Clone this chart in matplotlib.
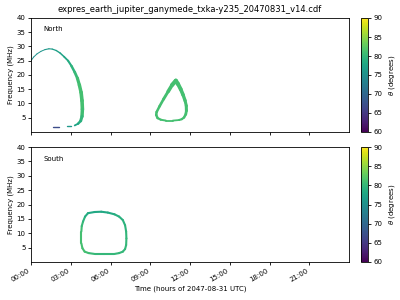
import numpy as np
import matplotlib
matplotlib.use("Agg")
import matplotlib.pyplot as plt
from matplotlib.collections import LineCollection
from matplotlib.colors import Normalize
from matplotlib.cm import ScalarMappable

title = "expres_earth_jupiter_ganymede_txka-y235_20470831_v14.cdf"
xtick_hours = [0, 3, 6, 9, 12, 15, 18, 21]
xtick_labels = ["00:00", "03:00", "06:00", "09:00", "12:00", "15:00", "18:00", "21:00"]
yticks = [5, 10, 15, 20, 25, 30, 35, 40]
cbar_ticks = [60, 65, 70, 75, 80, 85, 90]

# North arc 1 (hours, MHz, theta deg)
n1_t = [0.0, 0.2, 0.45, 0.75, 1.05, 1.35, 1.6, 1.9, 2.2, 2.5, 2.8, 3.05, 3.3, 3.5, 3.65, 3.78, 3.85, 3.88, 3.85, 3.75, 3.55, 3.3]
n1_f = [25.0, 26.3, 27.4, 28.3, 28.9, 29.2, 29.1, 28.6, 27.7, 26.4, 25.0, 23.2, 21.0, 18.9, 16.5, 13.9, 11.0, 8.0, 5.5, 3.9, 2.9, 2.3]
n1_th = [75, 75, 75.5, 75.5, 76, 76, 76.5, 77, 77, 77.5, 78, 79, 80, 80.5, 81, 81, 81, 81, 80.5, 79.5, 78, 77]
# small fragments under arc 1
n1b_t = [1.63, 2.1]
n1b_f = [1.6, 1.6]
n1b_th = [67, 67]
n1c_t = [2.75, 3.05]
n1c_f = [2.0, 2.0]
n1c_th = [76, 76]
# North loop 2
n2_t = [10.93, 11.1, 11.3, 11.48, 11.63, 11.72, 11.73, 11.68, 11.55, 11.38, 11.18, 10.7, 10.18, 9.8, 9.55, 9.45, 9.48, 9.7, 10.0, 10.35, 10.65, 10.93]
n2_f = [18.0, 16.8, 15.0, 13.0, 11.0, 9.2, 7.5, 6.2, 5.1, 4.5, 4.2, 4.0, 4.0, 4.3, 4.9, 6.0, 7.0, 9.0, 11.5, 14.2, 16.5, 18.0]
n2_th = [81] * 22
# South loop
s_t = [4.3, 4.8, 5.3, 5.8, 6.3, 6.65, 6.93, 7.1, 7.18, 7.2, 7.18, 7.1, 6.93, 6.65, 6.3, 5.5, 4.8, 4.35, 4.05, 3.88, 3.8, 3.8, 3.83, 3.93, 4.08, 4.3]
s_f = [17.0, 17.4, 17.5, 17.2, 16.6, 15.8, 14.6, 12.8, 10.6, 8.2, 5.9, 4.5, 3.6, 3.1, 2.8, 2.8, 2.8, 3.1, 3.6, 4.8, 6.5, 10.6, 12.5, 14.1, 15.8, 17.0]
s_th = [78, 78, 78, 78, 78.5, 79, 79, 79.5, 79.5, 80, 80, 80, 80, 80, 80, 80, 80, 80.5, 81, 81, 81, 81, 80.5, 80, 79, 78]

cmap = plt.get_cmap("viridis")
norm = Normalize(60, 90)


def draw(ax, t, f, th, widths):
    pts = np.column_stack([t, f])
    segs = np.stack([pts[:-1], pts[1:]], axis=1)
    vals = 0.5 * (np.asarray(th[:-1], float) + np.asarray(th[1:], float))
    lc = LineCollection(segs, cmap=cmap, norm=norm, linewidths=widths, capstyle="round", joinstyle="round")
    lc.set_array(vals)
    ax.add_collection(lc)


fig = plt.figure(figsize=(4, 3), dpi=100)
ax1 = fig.add_axes([0.0775, 0.56, 0.795, 0.38])
ax2 = fig.add_axes([0.0775, 0.1267, 0.795, 0.383])
cax1 = fig.add_axes([0.9025, 0.56, 0.0175, 0.38])
cax2 = fig.add_axes([0.9025, 0.1267, 0.0175, 0.383])

w1 = [0.7, 0.7, 0.7, 0.7, 0.8, 0.8, 0.9, 1.0, 1.1, 1.3, 1.5, 1.8, 2.0, 2.3, 2.5, 2.6, 2.6, 2.5, 2.2, 1.8, 1.3]
draw(ax1, n1_t, n1_f, n1_th, w1)
draw(ax1, n1b_t, n1b_f, n1b_th, [1.0])
draw(ax1, n1c_t, n1c_f, n1c_th, [1.0])
w2 = [3.0, 2.8, 2.6, 2.4, 2.2, 2.2, 2.0, 1.8, 1.6, 1.5, 1.3, 1.3, 1.4, 1.6, 1.8, 1.8, 1.8, 1.9, 2.1, 2.6, 3.0]
draw(ax1, n2_t, n2_f, n2_th, w2)
draw(ax2, s_t, s_f, s_th, [1.5] * (len(s_t) - 1))

for ax, lab in [(ax1, "North"), (ax2, "South")]:
    ax.set_xlim(0, 24)
    ax.set_ylim(0, 40)
    ax.set_yticks(yticks)
    ax.set_xticks(xtick_hours)
    ax.tick_params(labelsize=5, length=2.5, width=0.6, pad=1.5)
    ax.set_ylabel("Frequency (MHz)", fontsize=5, labelpad=2)
    ax.text(0.04, 0.9, lab, transform=ax.transAxes, fontsize=5, va="center")
    for s in ax.spines.values():
        s.set_linewidth(0.6)

ax1.set_xticklabels([])
ax2.set_xticklabels(xtick_labels, rotation=30, ha="right")
ax2.set_xlabel("Time (hours of 2047-08-31 UTC)", fontsize=5, labelpad=2)
ax1.set_title(title, fontsize=6, pad=4)

for cax in (cax1, cax2):
    cb = fig.colorbar(ScalarMappable(norm=norm, cmap=cmap), cax=cax)
    cb.set_ticks(cbar_ticks)
    cb.ax.tick_params(labelsize=5, length=2.5, width=0.6, pad=1.5)
    cb.set_label(r"$\theta$ (degrees)", fontsize=5, labelpad=3)
    cb.outline.set_linewidth(0.6)

fig.savefig("out.png", dpi=100)
